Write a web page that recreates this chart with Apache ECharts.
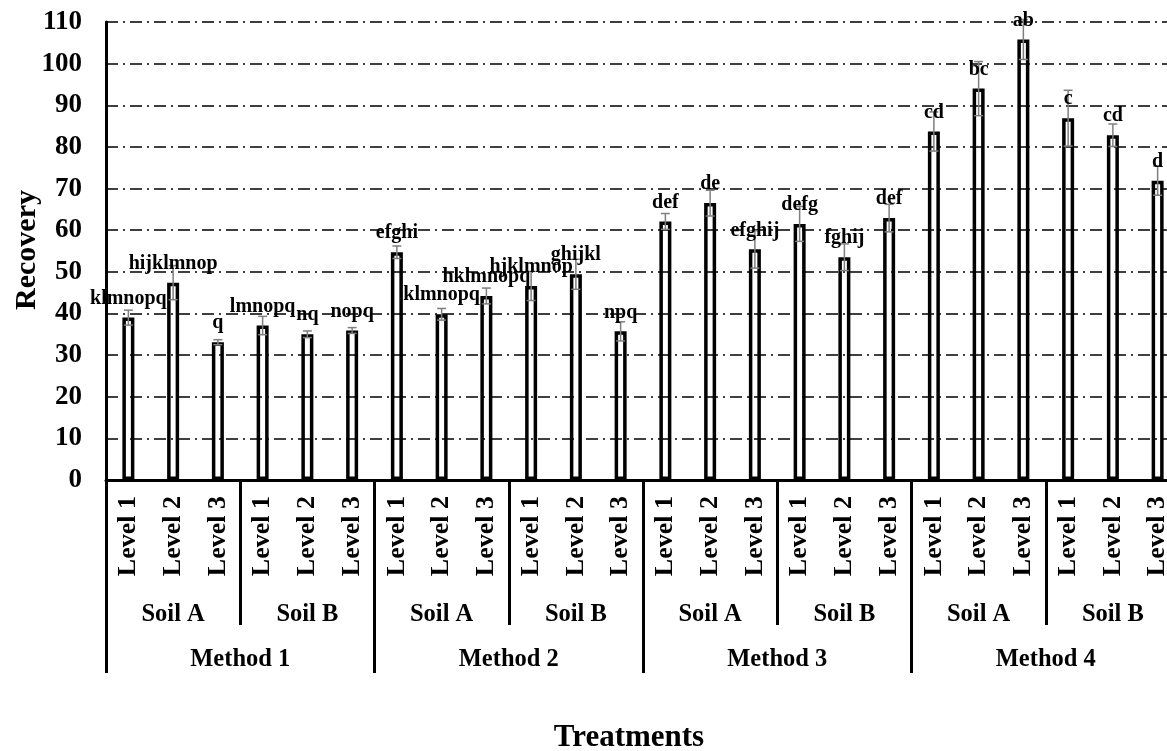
<!DOCTYPE html>
<html>
<head>
<meta charset="utf-8">
<script src="https://cdn.jsdelivr.net/npm/echarts@6/dist/echarts.min.js"></script>
<style>
html,body{margin:0;padding:0;background:#fff;overflow:hidden;}
#chart{width:1180px;height:751px;}
</style>
</head>
<body>
<div id="chart"></div>
<script>
const levels = ['Level 1','Level 2','Level 3','Level 1','Level 2','Level 3','Level 1','Level 2','Level 3','Level 1','Level 2','Level 3',
                'Level 1','Level 2','Level 3','Level 1','Level 2','Level 3','Level 1','Level 2','Level 3','Level 1','Level 2','Level 3'];
const soils = ['Soil A','Soil B','Soil A','Soil B','Soil A','Soil B','Soil A','Soil B'];
const methods = ['Method 1','Method 2','Method 3','Method 4'];
const recovery = [39.0, 47.4, 33.1, 37.1, 35.0, 35.9,
                  54.7, 39.8, 44.2, 46.6, 49.4, 35.7,
                  62.1, 66.5, 55.4, 61.5, 53.5, 62.9,
                  83.7, 94.0, 105.8, 86.9, 82.8, 71.9];
const errors = [1.8, 4.1, 0.6, 2.2, 0.8, 0.7,
                1.5, 1.4, 1.9, 3.5, 3.6, 2.3,
                1.9, 3.1, 4.5, 4.2, 3.2, 3.3,
                4.7, 6.5, 4.8, 6.7, 2.7, 3.5];
const letters = ['klmnopq','hijklmnop','q','lmnopq','nq','nopq',
                 'efghi','klmnopq','hklmnopq','hjklmnop','ghijkl','npq',
                 'def','de','efghij','defg','fghij','def',
                 'cd','bc','ab','c','cd','d'];
const yTicks = {min: 0, max: 110, interval: 10};

const FONT = '"Liberation Serif","Times New Roman",serif';
const chart = echarts.init(document.getElementById('chart'), null, {renderer: 'canvas'});

const option = {
  animation: false,
  backgroundColor: '#fff',
  textStyle: {fontFamily: FONT},
  grid: {left: 106, right: 0, top: 22, bottom: 271, containLabel: false},
  xAxis: [
    {
      type: 'category', data: levels, position: 'bottom', gridIndex: 0,
      axisLine: {show: true, lineStyle: {color: '#000', width: 3}},
      axisTick: {show: false},
      axisLabel: {rotate: 90, margin: 16, fontSize: 26, fontWeight: 'bold', color: '#000', fontFamily: FONT, interval: 0},
      splitLine: {show: false}
    },
    {
      type: 'category', data: soils, position: 'bottom', gridIndex: 0, offset: 0,
      axisLine: {show: false},
      axisTick: {show: true, length: 145, lineStyle: {color: '#000', width: 3}},
      axisLabel: {margin: 122, fontSize: 24.5, fontWeight: 'bold', color: '#000', fontFamily: FONT, interval: 0},
      splitLine: {show: false}
    },
    {
      type: 'category', data: methods, position: 'bottom', gridIndex: 0, offset: 0,
      axisLine: {show: false},
      axisTick: {show: true, length: 193, lineStyle: {color: '#000', width: 3}},
      axisLabel: {margin: 167, fontSize: 24.5, fontWeight: 'bold', color: '#000', fontFamily: FONT, interval: 0},
      splitLine: {show: false}
    }
  ],
  yAxis: {
    type: 'value', min: yTicks.min, max: yTicks.max, interval: yTicks.interval,
    axisLine: {show: true, lineStyle: {color: '#000', width: 3}},
    axisTick: {show: false},
    axisLabel: {margin: 24, fontSize: 27, fontWeight: 'bold', color: '#000', fontFamily: FONT},
    splitLine: {show: true, lineStyle: {color: '#000', width: 1.5, type: [12, 5, 2, 5]}}
  },
  graphic: [
    {type: 'text', x: 27, y: 250, rotation: Math.PI / 2,
     style: {text: 'Recovery', font: 'bold 30px ' + FONT, fill: '#000', align: 'center', verticalAlign: 'middle'}},
    {type: 'text', x: 629, y: 738,
     style: {text: 'Treatments', font: 'bold 31px ' + FONT, fill: '#000', align: 'center', verticalAlign: 'middle'}}
  ],
  series: [
    {
      type: 'bar', xAxisIndex: 0, yAxisIndex: 0, data: recovery, barWidth: 12,
      itemStyle: {color: 'rgba(0,0,0,0)', borderColor: '#000', borderWidth: 3.5},
      z: 2
    },
    {
      type: 'custom', xAxisIndex: 0, yAxisIndex: 0, z: 5, clip: false,
      data: recovery.map((v, i) => [i, v, errors[i]]),
      renderItem: function (params, api) {
        const i = api.value(0), v = api.value(1), e = api.value(2);
        const top = api.coord([i, v + e]);
        const bot = api.coord([i, v - e]);
        const barTop = api.coord([i, v]);
        const cap = 4.5;
        const ls = {stroke: '#7f7f7f', lineWidth: 1.5};
        return {
          type: 'group',
          children: [
            {type: 'line', shape: {x1: top[0], y1: top[1], x2: bot[0], y2: bot[1]}, style: ls},
            {type: 'line', shape: {x1: top[0] - cap, y1: top[1], x2: top[0] + cap, y2: top[1]}, style: ls},
            {type: 'line', shape: {x1: bot[0] - cap, y1: bot[1], x2: bot[0] + cap, y2: bot[1]}, style: ls},
            {type: 'text', z2: 10, style: {x: barTop[0], y: barTop[1] - 19, text: letters[params.dataIndex],
              font: 'bold 20px ' + FONT, fill: '#000', align: 'center', verticalAlign: 'middle'}}
          ]
        };
      }
    }
  ]
};
chart.setOption(option);
</script>
</body>
</html>
